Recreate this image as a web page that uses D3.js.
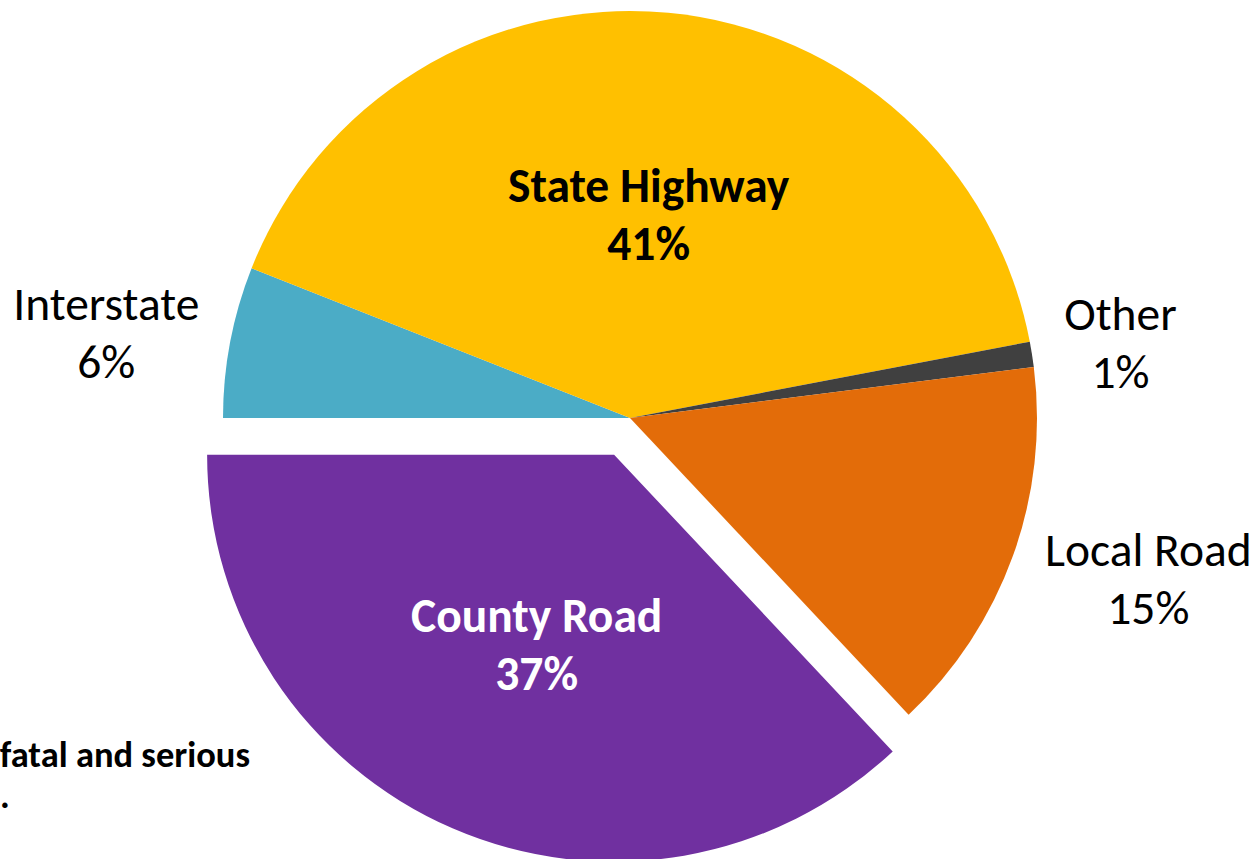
<!DOCTYPE html>
<html>
<head>
<meta charset="utf-8">
<script src="https://cdn.jsdelivr.net/npm/d3@7"></script>
<style>
  body { margin: 0; background: #fff; }
  svg { display: block; font-family: Carlito, Calibri, Lato, sans-serif; }
</style>
</head>
<body>
<svg id="pie_svg" width="1255" height="859"></svg>
<script>
// data
var categories = ["Interstate", "State Highway", "Other", "Local Road", "County Road"];
var shares = [6, 41, 1, 15, 37];
var colors = ["#4BACC6", "#FFC000", "#404040", "#E36C09", "#7030A0"];

// label placement (fraction of the radius, then a small pixel nudge) and styling
var labelRadius = { "Interstate": 1.3, "State Highway": 0.46, "Other": 1.22, "Local Road": 1.33, "County Road": 0.51 };
var labelNudge = { "Interstate": [-4, 6], "State Highway": [1, -25], "Other": [0, -5], "Local Road": [9, -30], "County Road": [5, -8] };
var labelInside = { "State Highway": true, "County Road": true };
var labelColor = { "State Highway": "#000", "County Road": "#fff" };
var exploded = "County Road";

var cx = 630, cy = 418, radius = 407, explode = 40;
var svg = d3.select('#pie_svg');
var g = svg.append('g').attr("transform", "translate(" + cx + "," + cy + ")");

var slices = categories.map((c, i) => ({ name: c, value: shares[i], color: colors[i] }));

var pie = d3.pie()
  .value(d => d.value)
  .sort(null)
  .startAngle(-Math.PI / 2)
  .endAngle(3 * Math.PI / 2);

var arcs = pie(slices);
var arc = d3.arc().innerRadius(0).outerRadius(radius);

function offset(d) {
  if (d.data.name !== exploded) return [0, 0];
  var a = (d.startAngle + d.endAngle) / 2;
  return [Math.sin(a) * explode, -Math.cos(a) * explode];
}

g.selectAll("path.slice")
  .data(arcs)
  .enter()
  .append("path")
  .attr("class", "slice")
  .attr("d", arc)
  .attr("fill", d => d.data.color)
  .attr("transform", d => "translate(" + offset(d) + ")");

// labels
var labels = g.selectAll("text.lbl")
  .data(arcs)
  .enter()
  .append("text")
  .attr("class", "lbl")
  .attr("text-anchor", "middle")
  .attr("font-size", "47.5px")
  .attr("font-weight", d => labelInside[d.data.name] ? "bold" : "normal")
  .attr("fill", d => labelColor[d.data.name] || "#000")
  .attr("transform", d => {
    var r = labelRadius[d.data.name] * radius;
    var c = d3.arc().innerRadius(r).outerRadius(r).centroid(d);
    var o = offset(d);
    var n = labelNudge[d.data.name];
    return "translate(" + (c[0] + o[0] + n[0]) + "," + (c[1] + o[1] + n[1]) + ")";
  });

labels.append("tspan")
  .attr("x", 0)
  .attr("y", -5)
  .text(d => d.data.name);

labels.append("tspan")
  .attr("x", 0)
  .attr("y", 53)
  .text(d => d.data.value + "%");

// clipped note text box at the bottom left
var note = svg.append("text")
  .attr("font-size", "36.5px")
  .attr("font-weight", "bold")
  .attr("fill", "#000");
note.append("tspan").attr("x", 250).attr("y", 767).attr("text-anchor", "end").text("fatal and serious");
note.append("tspan").attr("x", 0).attr("y", 808).text(".");
</script>
</body>
</html>
